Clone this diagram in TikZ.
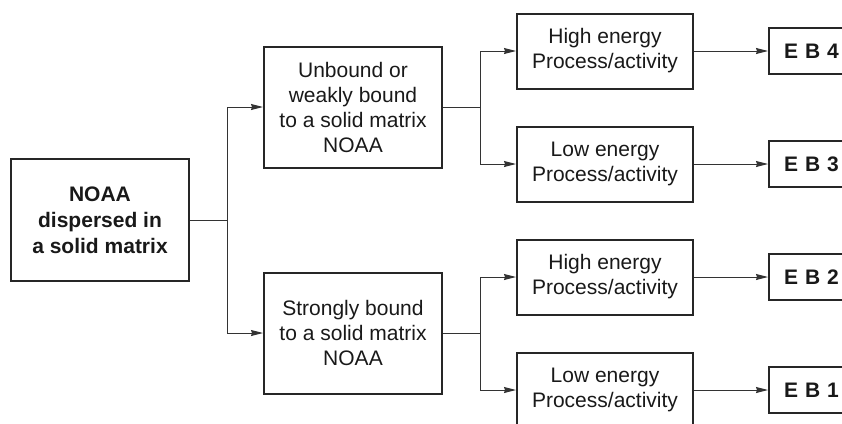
\documentclass[tikz,border=0pt]{standalone}
\usepackage{fontspec}
\setmainfont{Liberation Sans}
\usetikzlibrary{positioning, arrows.meta, calc}

\begin{document}
\begin{tikzpicture}[
  x=1pt, y=-1pt,
  font=\fontsize{21}{25}\selectfont,
  srcbox/.style={draw=black!85, line width=2pt, align=center, text=black!90,
    minimum width=178pt, minimum height=122pt, inner sep=0pt,
    font=\fontsize{21}{26}\selectfont\bfseries},
  bindbox/.style={draw=black!85, line width=2pt, align=center, text=black!90,
    minimum width=178pt, minimum height=121pt, inner sep=0pt},
  procbox/.style={draw=black!85, line width=2pt, align=center, text=black!90,
    minimum width=176pt, minimum height=75pt, inner sep=0pt},
  ebbox/.style={draw=black!85, line width=2pt, text=black!90, anchor=west,
    minimum height=46pt, inner xsep=15pt, inner ysep=0pt, text width=62pt, align=left,
    font=\fontsize{21}{25}\selectfont\bfseries},
  flow/.style={-{Stealth[length=12pt, width=6pt, inset=1pt]}, line width=1pt, draw=black!80},
  link/.style={line width=1pt, draw=black!80}
]
\useasboundingbox (0,0) rectangle (842,423);

% --- the starting material ---
\node[srcbox] (src) at (100,220) {NOAA\\dispersed in\\a solid matrix};

% --- how the NOAA is held in the matrix ---
\node[bindbox] (weak)   at (353,107) {Unbound or\\weakly bound\\to a solid matrix\\NOAA};
\node[bindbox] (strong) at (353,333) {Strongly bound\\to a solid matrix\\NOAA};

% --- energy of the process ---
\node[procbox] (hi4) at (605,51)  {High energy\\Process/activity};
\node[procbox] (lo3) at (605,164) {Low energy\\Process/activity};
\node[procbox] (hi2) at (605,277) {High energy\\Process/activity};
\node[procbox] (lo1) at (605,390) {Low energy\\Process/activity};

% --- end boxes, cut by the right edge ---
\node[ebbox] (eb4) at (768,51)  {E B 4};
\node[ebbox] (eb3) at (768,164) {E B 3};
\node[ebbox] (eb2) at (768,277) {E B 2};
\node[ebbox] (eb1) at (768,390) {E B 1};

% split points
\coordinate (s0) at (227,220);
\coordinate (s1) at (480,107);
\coordinate (s2) at (480,333);

% first split
\draw[link] (src.east) -- (s0);
\draw[flow] (s0) |- (weak.west);
\draw[flow] (s0) |- (strong.west);

% second split
\draw[link] (weak.east) -- (s1);
\draw[flow] (s1) |- (hi4.west);
\draw[flow] (s1) |- (lo3.west);
\draw[link] (strong.east) -- (s2);
\draw[flow] (s2) |- (hi2.west);
\draw[flow] (s2) |- (lo1.west);

% into the end boxes
\draw[flow] (hi4.east) -- (eb4.west);
\draw[flow] (lo3.east) -- (eb3.west);
\draw[flow] (hi2.east) -- (eb2.west);
\draw[flow] (lo1.east) -- (eb1.west);

\end{tikzpicture}
\end{document}
